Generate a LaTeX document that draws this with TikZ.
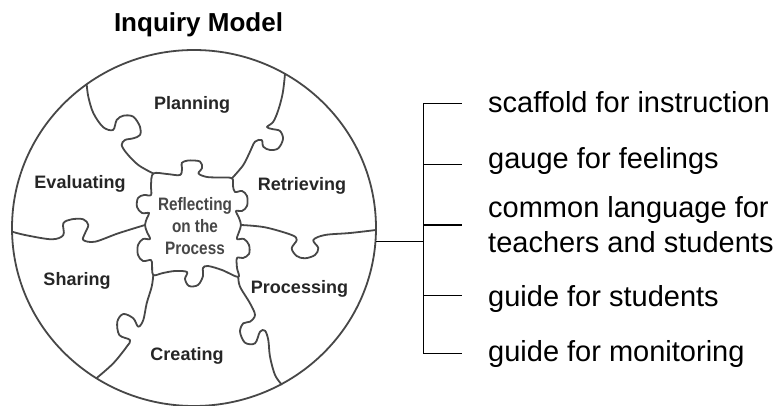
\documentclass[tikz,border=0pt]{standalone}
\usepackage{fontspec}
\setmainfont{Liberation Sans}
\begin{document}
\begin{tikzpicture}[x=1pt,y=-1pt,
  puz/.style={draw=black!72, line width=1.8pt, line join=round, line cap=round},
  lab/.style={font=\fontsize{18}{21}\selectfont\bfseries, text=black!85, anchor=base, inner sep=0pt},
  ctr/.style={font=\fontsize{18}{21}\selectfont\bfseries, text=black!72, anchor=base, inner sep=0pt},
  item/.style={font=\fontsize{29}{35}\selectfont, anchor=base west, inner sep=0pt},
  brk/.style={draw=black, line width=1.4pt}]
\useasboundingbox (0,0) rectangle (778,406);
\fill[white] (0,0) rectangle (778,406);

% title
\node[font=\fontsize{26}{30}\selectfont\bfseries, anchor=base, inner sep=0pt] (title) at (198.5,32) {Inquiry Model};

% outer disc
\draw[puz] (194,228) ellipse [x radius=182, y radius=178];

% radial puzzle cuts
\draw[puz] plot[smooth, tension=0.55] coordinates {(86.7,84.5) (88.3,96.7) (93.3,113) (103,127) (113,130) (116.7,120) (123.3,115.7) (133.3,116.7) (140,126.7) (140,135) (133.3,138.3) (125,140) (121.7,145) (126.7,153.3) (138.3,165) (153.3,173.5)};
\draw[puz] plot[smooth, tension=0.55] coordinates {(285,74) (282.7,93.3) (278.3,110) (273.3,121.7) (267,127) (272,129) (280,131) (283,139) (278.3,148.3) (270,150) (263.3,146.7) (261.7,140) (255,141.7) (250,151.7) (243.3,165) (232,178.3)};
\draw[puz] plot[smooth, tension=0.55] coordinates {(12.2,231.7) (25,235) (51.7,239.3) (63.3,235) (63.3,223.3) (71.7,219.3) (83.3,219.3) (88.3,225) (85,233.3) (83.3,240) (95,241.7) (118.3,233.3) (145,225)};
\draw[puz] plot[smooth, tension=0.55] coordinates {(241,225) (265,227.3) (291.7,235) (296.7,240) (291.7,248.3) (296.7,256) (305,258.3) (315,255) (318.3,248) (313.3,240) (325,235) (350,233) (376,230)};
\draw[puz] plot[smooth, tension=0.55] coordinates {(153.3,275) (151.7,286.7) (146.7,303.3) (143.3,320) (138.3,326.7) (133.3,318.3) (123.3,314) (117.3,321.7) (119.3,335) (130,340) (126.7,346.7) (113.3,363.3) (96.7,378)};
\draw[puz] plot[smooth, tension=0.55] coordinates {(238.3,277) (240,286.7) (250,303.3) (255,315) (250,321.7) (243.3,323.3) (240,331.7) (245,342.7) (255,343.3) (260,331.7) (265,330.7) (268.3,340) (270,356.7) (275,375) (281.7,384.5)};

% central piece
\draw[puz] plot[smooth cycle, tension=0.55] coordinates {
  (153.3,173.5) (167,174) (180,175) (182,168) (181.7,163) (188,160.5) (200,161.5) (202,168) (198.5,173.5) (207,177) (220,177.5) (232,178.3)
  (233,186) (235,192) (242,191) (247,196) (247,206) (242,211) (236,211) (239,218) (241,225) (239,232) (237,239) (244,239) (249,245) (249,254) (243,258) (237,258) (237,268) (238.3,277)
  (222,270) (208,266) (203,268) (203,276) (198,285) (189,286) (185,279) (187,272) (175,271) (163,273) (153.3,275)
  (152,265) (151,260) (143,261) (138,255) (138,245) (143,239) (150,239) (147,232) (145,225) (147,218) (149,213) (142,213) (137,207) (138,198) (144,195) (151,195) (151,185)};

% piece labels
\node[lab] (plan) at (192,110) {Planning};
\node[lab] (eval) at (80,188) {Evaluating};
\node[lab] (retr) at (302,190) {Retrieving};
\node[lab] (shar) at (77,285) {Sharing};
\node[lab] (proc) at (299.5,293) {Processing};
\node[lab] (crea) at (187,360) {Creating};
\node[ctr] (c1) at (195,210.5) {\scalebox{0.85}[1]{Reflecting}};
\node[ctr] (c2) at (195,232.5) {\scalebox{0.85}[1]{on the}};
\node[ctr] (c3) at (195,254) {\scalebox{0.85}[1]{Process}};

% bracket
\coordinate (hubL) at (376,241.7);
\coordinate (hubR) at (423.3,241.7);
\coordinate (top) at (423.3,103.3);
\coordinate (bot) at (423.3,353.3);
\foreach \n/\y in {1/103.3, 2/164.3, 3/225, 4/295.7, 5/353.3}{
  \coordinate (s\n) at (423.3,\y);
  \coordinate (e\n) at (461.7,\y);
}
\draw[brk] (hubL) -- (hubR);
\draw[brk, line cap=rect] (top) -- (bot);
\foreach \n in {1,...,5}{\draw[brk] (s\n) -- (e\n);}

\node[item] (t1) at (488,112.3) {scaffold for instruction};
\node[item] (t2) at (488,168.3) {gauge for feelings};
\node[item, anchor=west, align=left] (t3) at (488,224.5) {common language for\\teachers and students};
\node[item] (t4) at (488,306.7) {guide for students};
\node[item] (t5) at (488,361.7) {guide for monitoring};
\end{tikzpicture}
\end{document}
